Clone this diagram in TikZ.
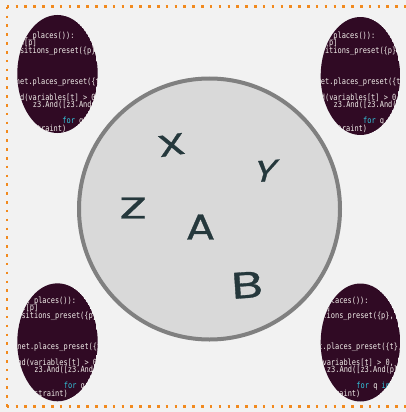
\documentclass[tikz,border=0pt]{standalone}
\usepackage{fontspec}
\setmainfont{DejaVu Sans}
\newfontfamily\codefont[FakeStretch=0.82]{DejaVu Sans Mono}
\newfontfamily\handfont[FakeBold=0.8]{Poppins}
\definecolor{pagebg}{HTML}{F2F2F2}
\definecolor{dotc}{HTML}{F28A1E}
\definecolor{termbg}{HTML}{300A24}
\definecolor{codefg}{HTML}{F2EEEA}
\definecolor{kw}{HTML}{33C7DE}
\definecolor{discfill}{HTML}{D9D9D9}
\definecolor{discline}{HTML}{808080}
\definecolor{letterc}{HTML}{25383C}
\newcommand{\cbx}{0}
\newcommand{\cby}{0}
\newcommand{\cl}[3]{\node[codetxt] at ({\cbx+#1*4.214},{\cby+#2*7.75}) {#3};}
\newcommand{\codeblock}[2]{%
  \renewcommand{\cbx}{#1}\renewcommand{\cby}{#2}%
  \cl{3}{0}{for p in net.all\_places()):}
  \cl{4}{1}{pv = variables[p]}
  \cl{4}{2}{ts = net.transitions\_preset(\{p\}, net)}
  \cl{10}{6}{pre = net.places\_preset(\{t\}, net)}
  \cl{8}{8}{c = z3.And(variables[t] > 0,}
  \cl{20}{9}{z3.And([z3.And(places[q] == 0,}
  \cl{36}{10}{variables[q] > 0)}
  \cl{27}{11}{\textcolor{kw}{for} q \textcolor{kw}{in} pre]))}
  \cl{11}{12}{s.add(constraint)}
}
\tikzset{
  codetxt/.style={anchor=base west, inner sep=0pt, text=codefg,
    font=\codefont\fontsize{8.5}{9}\selectfont},
  termell/.style={fill=termbg},
  dotline/.style={draw=dotc, line width=2.6pt, dash pattern=on 2.6pt off 6.23pt},
  disc/.style={circle, draw=discline, fill=discfill, line width=4pt,
    minimum size=261pt, inner sep=0pt},
  letter/.style={text=letterc, inner sep=0pt, font=\handfont\fontsize{#1}{#1}\selectfont},
}
\begin{document}
\begin{tikzpicture}[x=1pt,y=-1pt]
\useasboundingbox (0,0) rectangle (406,412);
\fill[pagebg] (0,0) rectangle (406,412);
% dotted frame
\coordinate (f1) at (6.8,6.8);
\coordinate (f2) at (420,6.8);
\coordinate (f3) at (6.8,406.6);
\coordinate (f4) at (420,406.6);
\draw[dotline] (f1) -- (f2);
\draw[dotline] (f1) -- (f3);
\draw[dotline] (f3) -- (f4);
% terminal ellipses
\begin{scope}
  \clip (57.5,74) ellipse [x radius=40.2pt, y radius=59pt];
  \fill[termell] (57.5,74) ellipse [x radius=40.2pt, y radius=59pt];
  \codeblock{-51.6}{38}
\end{scope}
\begin{scope}
  \clip (360.4,76) ellipse [x radius=39.7pt, y radius=59pt];
  \fill[termell] (360.4,76) ellipse [x radius=39.7pt, y radius=59pt];
  \codeblock{249.2}{38}
\end{scope}
\begin{scope}
  \clip (57.5,342.3) ellipse [x radius=40.2pt, y radius=59pt];
  \fill[termell] (57.5,342.3) ellipse [x radius=40.2pt, y radius=59pt];
  \codeblock{-50.1}{303}
\end{scope}
\begin{scope}
  \clip (360.4,342.5) ellipse [x radius=39.7pt, y radius=59pt];
  \fill[termell] (360.4,342.5) ellipse [x radius=39.7pt, y radius=59pt];
  \codeblock{242.5}{303}
\end{scope}
% central disc
\node[disc] (disc) at (209.5,209) {};
% letters
\node[letter=30, rotate=8] (lx) at (171.5,145) {\scalebox{1.5}[1]{X}};
\node[letter=30, rotate=4, xslant=0.35] (ly) at (266,171) {\scalebox{1.3}[1]{Y}};
\node[letter=30] (lz) at (133,208) {\scalebox{1.7}[1]{Z}};
\node[letter=36] (la) at (200.5,227) {\scalebox{1.2}[1]{A}};
\node[letter=37, rotate=4] (lb) at (247,285) {\scalebox{1.4}[1]{B}};
\end{tikzpicture}
\end{document}
